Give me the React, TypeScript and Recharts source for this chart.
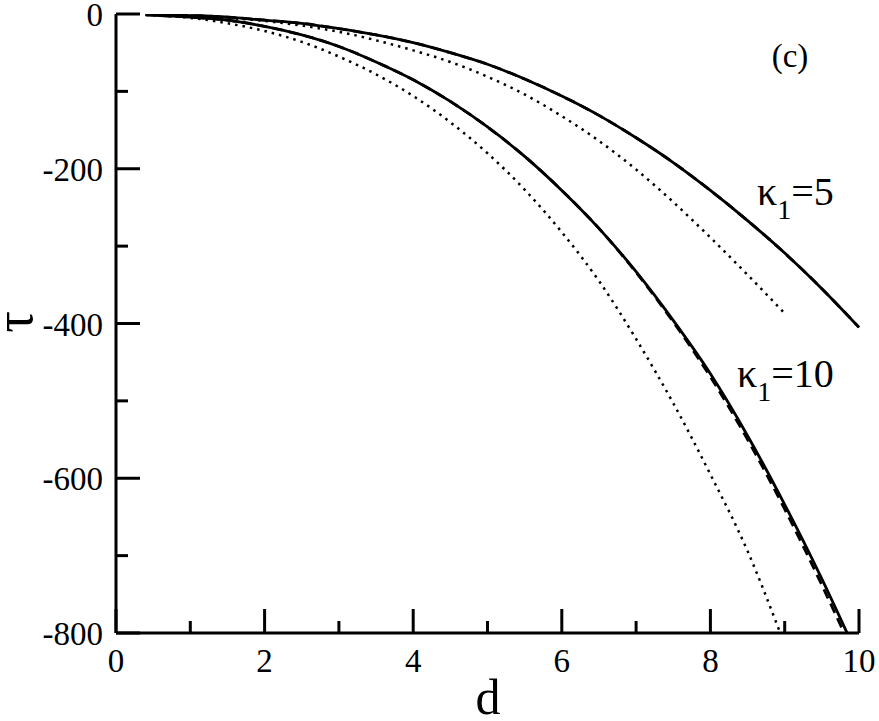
import React from 'react';
import { LineChart, Line, XAxis, YAxis } from 'recharts';

// d values and tau
const dK5 = [0.4, 1, 1.5, 2, 2.5, 3, 3.5, 4, 4.5, 5, 5.5, 6, 6.5, 7, 7.5, 8, 8.5, 9, 9.5, 10];
const tauK5Solid = [-0.5, -2, -4, -8, -12, -19, -27, -37, -50, -65, -84, -106, -131, -160, -192, -228, -267, -309, -355, -405];

const dK5Dot = [0.4, 1, 1.5, 2, 2.5, 3, 3.5, 4, 4.5, 5, 5.5, 6, 6.5, 7, 7.5, 8, 8.5, 9];
const tauK5Dot = [-0.5, -2, -5, -9, -15, -23, -34, -47, -62, -81, -104, -132, -164, -201, -243, -289, -337, -387];

const dK10 = [0.4, 1, 1.5, 2, 2.5, 3, 3.5, 4, 4.5, 5, 5.5, 6, 6.5, 7, 7.5, 8, 8.5, 9, 9.5, 9.84];
const tauK10Solid = [-1, -4, -8, -16, -27, -42, -62, -85, -113, -146, -184, -228, -277, -333, -396, -465, -545, -634, -730, -800];

const dK10Dash = [0.4, 1, 1.5, 2, 2.5, 3, 3.5, 4, 4.5, 5, 5.5, 6, 6.5, 7, 7.5, 8, 8.5, 9, 9.5, 9.8];
const tauK10Dash = [-1, -4, -8, -16, -27, -42, -62, -85, -113, -146, -184, -228, -277, -334, -398, -469, -550, -640, -738, -800];

const dK10Dot = [0.4, 1, 1.5, 2, 2.5, 3, 3.5, 4, 4.5, 5, 5.5, 6, 6.5, 7, 7.5, 8, 8.5, 8.94];
const tauK10Dot = [-1, -5, -12, -22, -36, -55, -78, -106, -140, -180, -227, -282, -345, -420, -503, -595, -694, -800];

const xTicks = [0, 1, 2, 3, 4, 5, 6, 7, 8, 9, 10];
const yTicks = [-800, -700, -600, -500, -400, -300, -200, -100, 0];

const toRows = (ds: number[], ts: number[]) => ds.map((d, i) => ({ d, tau: ts[i] }));

const FONT = "'Liberation Serif'";
const MAJOR = 24;
const MINOR = 12;

const BottomTick = (props: any) => {
  const { x, y, payload } = props;
  const major = payload.value % 2 === 0;
  return (
    <g>
      <line x1={x} y1={y} x2={x} y2={y - (major ? MAJOR : MINOR)} stroke='#000' strokeWidth={3} />
      {major && (
        <text x={x} y={y + 39} textAnchor='middle' fill='#000' style={{ fontFamily: FONT, fontSize: 33 }}>
          {payload.value}
        </text>
      )}
    </g>
  );
};

const TopTick = (props: any) => {
  const { x, y, payload } = props;
  const major = payload.value % 2 === 0;
  return <line x1={x} y1={y} x2={x} y2={y + (major ? MAJOR : MINOR)} stroke='#000' strokeWidth={3} />;
};

const LeftTick = (props: any) => {
  const { x, y, payload } = props;
  const major = payload.value % 200 === 0;
  return (
    <g>
      <line x1={x} y1={y} x2={x + (major ? MAJOR : MINOR)} y2={y} stroke='#000' strokeWidth={3} />
      {major && (
        <text x={x - 13} y={y + 12} textAnchor='end' fill='#000' style={{ fontFamily: FONT, fontSize: 33 }}>
          {payload.value}
        </text>
      )}
    </g>
  );
};

const RightTick = (props: any) => {
  const { x, y, payload } = props;
  const major = payload.value % 200 === 0;
  return <line x1={x} y1={y} x2={x - (major ? MAJOR : MINOR)} y2={y} stroke='#000' strokeWidth={3} />;
};

const axisLine = { stroke: '#000', strokeWidth: 3 };

const App = () => {
  return (
    <div style={{ position: 'absolute', left: 0, top: 0, width: 879, height: 721, background: '#fff' }}>
      <LineChart width={879} height={721} margin={{ top: 14, right: 20, left: 0, bottom: 0 }}>
        <XAxis
          dataKey='d'
          type='number'
          domain={[0, 10]}
          ticks={xTicks}
          interval={0}
          height={88}
          tickSize={0}
          tickMargin={0}
          tickLine={false}
          axisLine={axisLine}
          tick={<BottomTick />}
        />
        <XAxis
          xAxisId='top'
          orientation='top'
          dataKey='d'
          type='number'
          domain={[0, 10]}
          ticks={xTicks}
          interval={0}
          height={0}
          tickSize={0}
          tickMargin={0}
          tickLine={false}
          axisLine={axisLine}
          tick={<TopTick />}
        />
        <YAxis
          type='number'
          domain={[-800, 0]}
          ticks={yTicks}
          interval={0}
          width={116}
          tickSize={0}
          tickMargin={0}
          tickLine={false}
          axisLine={axisLine}
          allowDataOverflow
          tick={<LeftTick />}
        />
        <YAxis
          yAxisId='right'
          orientation='right'
          type='number'
          domain={[-800, 0]}
          ticks={yTicks}
          interval={0}
          width={0}
          tickSize={0}
          tickMargin={0}
          tickLine={false}
          axisLine={axisLine}
          tick={<RightTick />}
        />
        <Line data={toRows(dK5, tauK5Solid)} dataKey='tau' type='monotone' stroke='#000' strokeWidth={2.8} dot={false} isAnimationActive={false} />
        <Line data={toRows(dK5, tauK5Solid)} dataKey='tau' type='monotone' stroke='#000' strokeWidth={2.8} strokeDasharray='10 6' dot={false} isAnimationActive={false} />
        <Line data={toRows(dK5Dot, tauK5Dot)} dataKey='tau' type='monotone' stroke='#000' strokeWidth={2.5} strokeDasharray='2.5 5' dot={false} isAnimationActive={false} />
        <Line data={toRows(dK10, tauK10Solid)} dataKey='tau' type='monotone' stroke='#000' strokeWidth={2.8} dot={false} isAnimationActive={false} />
        <Line data={toRows(dK10Dash, tauK10Dash)} dataKey='tau' type='monotone' stroke='#000' strokeWidth={2.8} strokeDasharray='10 6' dot={false} isAnimationActive={false} />
        <Line data={toRows(dK10Dot, tauK10Dot)} dataKey='tau' type='monotone' stroke='#000' strokeWidth={2.5} strokeDasharray='2.5 5' dot={false} isAnimationActive={false} />
      </LineChart>
      <svg width={879} height={721} style={{ position: 'absolute', left: 0, top: 0, pointerEvents: 'none' }}>
        <text x={790} y={67} textAnchor='middle' fill='#000' style={{ fontFamily: FONT, fontSize: 33 }}>(c)</text>
        <text x={757} y={205} fill='#000' style={{ fontFamily: FONT, fontSize: 40 }}>
          κ<tspan dy={14} style={{ fontSize: 28 }}>1</tspan>
          <tspan dy={-14}>=5</tspan>
        </text>
        <text x={737} y={387} fill='#000' style={{ fontFamily: FONT, fontSize: 40 }}>
          κ<tspan dy={14} style={{ fontSize: 28 }}>1</tspan>
          <tspan dy={-14}>=10</tspan>
        </text>
        <text x={488} y={714} textAnchor='middle' fill='#000' style={{ fontFamily: FONT, fontSize: 50 }}>d</text>
        <text x={32} y={322} textAnchor='middle' fill='#000' transform='rotate(-90 32 322)' style={{ fontFamily: FONT, fontSize: 54 }}>τ</text>
      </svg>
    </div>
  );
};

export default App;
